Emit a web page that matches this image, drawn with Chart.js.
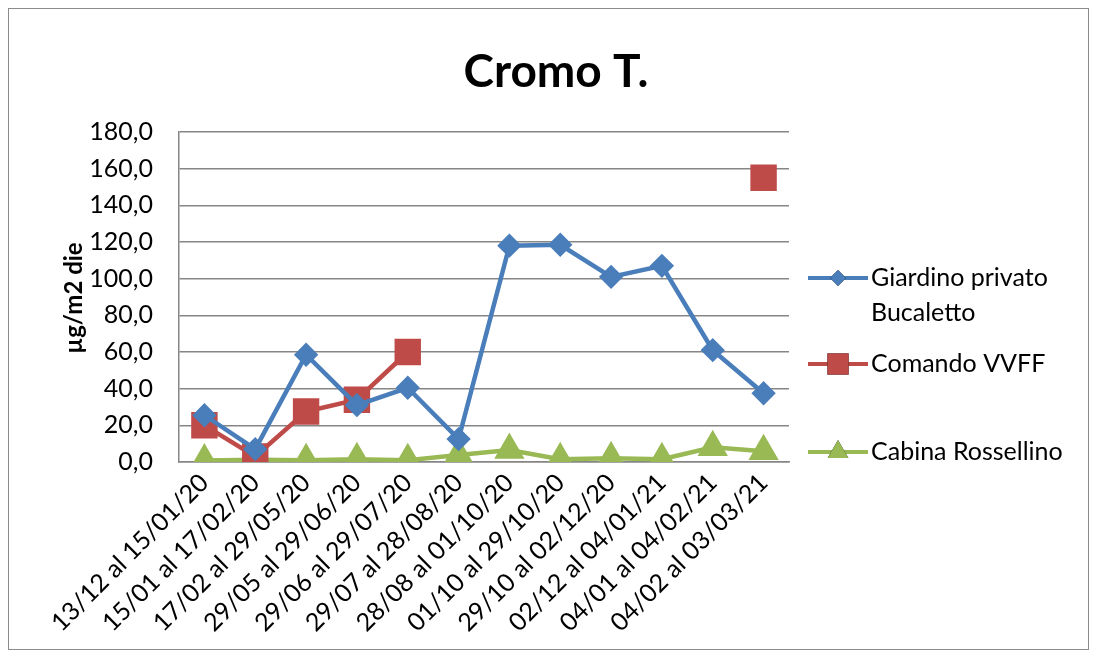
<!DOCTYPE html>
<html>
<head>
<meta charset="utf-8">
<script src="https://cdn.jsdelivr.net/npm/chart.js@4.4.1/dist/chart.umd.min.js"></script>
<style>
  html, body { margin: 0; padding: 0; background: #fff; }
  #wrap { position: relative; width: 1097px; height: 658px; }
</style>
</head>
<body>
<div id="wrap"><canvas id="cromoChart" width="1097" height="658"></canvas></div>
<script>
/************************************************************
 * DATA
 ************************************************************/
const periods = [
  "13/12 al 15/01/20", "15/01 al 17/02/20", "17/02 al 29/05/20",
  "29/05 al 29/06/20", "29/06 al 29/07/20", "29/07 al 28/08/20",
  "28/08 al 01/10/20", "01/10 al 29/10/20", "29/10 al 02/12/20",
  "02/12 al 04/01/21", "04/01 al 04/02/21", "04/02 al 03/03/21",
];
const giardino = [25.5, 7.0, 58.5, 31.0, 40.5, 12.5, 118.0, 118.5, 101.0, 107.0, 61.0, 37.5];
const comando = [20.0, 3.0, 27.5, 34.0, 60.0, null, null, null, null, null, null, 155.0];
const cabina = [0.8, 1.2, 1.0, 1.5, 1.0, 3.8, 6.5, 1.5, 2.0, 1.5, 8.0, 5.8];
const yTicks = [0, 20, 40, 60, 80, 100, 120, 140, 160, 180];

const FONT = "Lato, 'Open Sans', sans-serif";
const BLUE = "#4a7ebb";
const RED = "#be4b48";
const GREEN = "#98b954";

const legendItems = [
  { lines: ["Giardino privato", "Bucaletto"], color: BLUE, style: "rectRot", r: 8, y: 278 },
  { lines: ["Comando VVFF"], color: RED, style: "rect", r: 15, y: 364 },
  { lines: ["Cabina Rossellino"], color: GREEN, style: "triangle", r: 12, y: 452 },
];

// title, y-axis title, legend and outer frame
const decorPlugin = {
  id: "decor",
  afterDraw(chart) {
    const ctx = chart.ctx;
    ctx.save();
    ctx.strokeStyle = "#8c8c8c";
    ctx.lineWidth = 1;
    ctx.strokeRect(8.5, 8.5, 1080, 641);

    ctx.fillStyle = "#000";
    ctx.textAlign = "center";
    ctx.textBaseline = "middle";
    ctx.font = `bold 46px ${FONT}`;
    ctx.fillText("Cromo T.", 556, 72);

    ctx.save();
    ctx.translate(74, 298);
    ctx.rotate(-Math.PI / 2);
    ctx.font = `bold 24px ${FONT}`;
    ctx.fillText("µg/m2 die", 0, 0);
    ctx.restore();

    ctx.textAlign = "left";
    ctx.font = `25px ${FONT}`;
    legendItems.forEach((it) => {
      ctx.strokeStyle = it.color;
      ctx.lineWidth = 4;
      ctx.beginPath();
      ctx.moveTo(808, it.y);
      ctx.lineTo(868, it.y);
      ctx.stroke();
      Chart.helpers.drawPoint(ctx, { pointStyle: it.style, radius: it.r, borderWidth: 0 }, 838, it.y);
      ctx.fillStyle = it.color;
      ctx.fill();
      ctx.fillStyle = "#000";
      it.lines.forEach((t, i) => ctx.fillText(t, 871, it.y + i * 35));
    });
    ctx.restore();
  },
};

new Chart(document.getElementById("cromoChart"), {
  type: "line",
  data: {
    labels: periods,
    datasets: [
      {
        label: "Giardino privato Bucaletto",
        data: giardino,
        borderColor: BLUE,
        backgroundColor: BLUE,
        borderWidth: 4.5,
        pointStyle: "rectRot",
        pointRadius: 9,
        tension: 0,
      },
      {
        label: "Comando VVFF",
        data: comando,
        borderColor: RED,
        backgroundColor: RED,
        borderWidth: 4.5,
        pointStyle: "rect",
        pointRadius: 15.5,
        spanGaps: false,
        tension: 0,
      },
      {
        label: "Cabina Rossellino",
        data: cabina,
        borderColor: GREEN,
        backgroundColor: GREEN,
        borderWidth: 4.5,
        pointStyle: "triangle",
        pointRadius: 13,
        tension: 0,
      },
    ],
  },
  options: {
    responsive: false,
    animation: false,
    layout: { padding: { top: 132, right: 308, left: 0, bottom: 0 } },
    plugins: { legend: { display: false }, tooltip: { enabled: false } },
    elements: { point: { borderWidth: 0 } },
    scales: {
      x: {
        offset: true,
        grid: { display: false, tickLength: 0 },
        border: { display: true, color: "#868686", width: 1.5 },
        ticks: {
          autoSkip: false,
          maxRotation: 45,
          minRotation: 45,
          padding: 6,
          color: "#000",
          font: { family: FONT, size: 25 },
        },
        afterFit: (s) => { s.height = 196; },
      },
      y: {
        min: 0,
        max: 180,
        afterBuildTicks: (s) => { s.ticks = yTicks.map((v) => ({ value: v })); },
        grid: { color: "#868686", lineWidth: 1.5, tickLength: 0 },
        border: { display: true, color: "#868686", width: 1.5 },
        ticks: {
          padding: 26,
          color: "#000",
          font: { family: FONT, size: 25 },
          callback: (v) => v.toFixed(1).replace(".", ","),
        },
        afterFit: (s) => { s.width = 179; },
      },
    },
  },
  plugins: [decorPlugin],
});
</script>
</body>
</html>
